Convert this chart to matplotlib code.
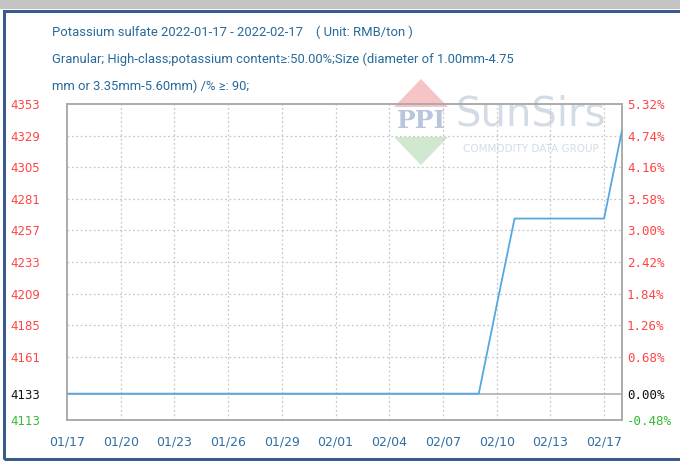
import matplotlib
matplotlib.use("Agg")
import matplotlib.pyplot as plt
from matplotlib.patches import Polygon, Rectangle
import numpy as np

# data (index based, one point per day on the chart)
prices = [4133, 4133, 4133, 4133, 4133, 4133, 4133, 4133, 4133, 4133,
          4133, 4133, 4133, 4133, 4133, 4133, 4133, 4133, 4133, 4133,
          4133, 4133, 4133, 4133, 4200, 4266, 4266, 4266, 4266, 4266,
          4266, 4333]
xtick_pos = [0, 3, 6, 9, 12, 15, 18, 21, 24, 27, 30]
xtick_labels = ['01/17', '01/20', '01/23', '01/26', '01/29', '02/01',
                '02/04', '02/07', '02/10', '02/13', '02/17']
base_price = 4133
yticks = [4353, 4329, 4305, 4281, 4257, 4233, 4209, 4185, 4161, 4133, 4113]

title1 = "Potassium sulfate 2022-01-17 - 2022-02-17    ( Unit: RMB/ton )"
title2 = "Granular; High-class;potassium content\u2265:50.00%;Size (diameter of 1.00mm-4.75"
title3 = "mm or 3.35mm-5.60mm) /% \u2265: 90;"

W, H = 680, 461
fig = plt.figure(figsize=(W / 100, H / 100), dpi=100)


def fx(px):
    return px / W


def fy(py):
    return 1 - py / H


# frame decoration
fig.patches.append(Rectangle((0, fy(9)), 1, 9 / H, transform=fig.transFigure,
                             facecolor='#c3c3c3', edgecolor='none', zorder=-5))
fig.patches.append(Rectangle((fx(4), fy(459)), 1, fy(11) - fy(459), transform=fig.transFigure,
                             facecolor='none', edgecolor='#3b5b8c', lw=2.2, zorder=-4))

title_font = ['Roboto', 'DejaVu Sans']
tcol = '#27699a'
t_lines = []
for txt, py in [(title1, 32), (title2, 59), (title3, 86)]:
    t_lines.append(fig.text(fx(52), fy(py), txt, fontsize=11, color=tcol, va='center',
                            family=title_font))
# shrink titles so the second line spans about 461 px like the original
r = fig.canvas.get_renderer()
w2 = t_lines[1].get_window_extent(r).width
for t in t_lines:
    t.set_fontsize(11 * 461 / w2)

ax = fig.add_axes([fx(67), fy(420), fx(622) - fx(67), fy(104) - fy(420)])
ax.set_facecolor('none')

# watermark
fig.patches.append(Polygon([(fx(421), fy(79)), (fx(394), fy(107)), (fx(448), fy(107))],
                           closed=True, transform=fig.transFigure,
                           facecolor='#f6c4c4', edgecolor='none', zorder=-3))
fig.patches.append(Polygon([(fx(394), fy(137)), (fx(448), fy(137)), (fx(421), fy(165))],
                           closed=True, transform=fig.transFigure,
                           facecolor='#cfe8cf', edgecolor='none', zorder=-3))
fig.text(fx(421), fy(121), "PPI", fontsize=18, color='#b9c5dd', ha='center', va='center',
         family='DejaVu Serif', weight='bold', zorder=-2)
fig.text(fx(531), fy(115), "SunSirs", fontsize=29, color='#d3dce5', ha='center', va='center',
         family='DejaVu Sans', zorder=-2)
fig.text(fx(531), fy(149), "COMMODITY DATA GROUP", fontsize=7.5, color='#d3dce5',
         ha='center', va='center', family='DejaVu Sans', zorder=-2)

x = np.arange(len(prices))
ax.plot(x, prices, color='#55a8e0', lw=1.3, zorder=3)

ax.set_xlim(0, len(prices) - 1)
ax.set_ylim(yticks[-1], yticks[0])

# grid
for t in yticks[1:-2]:
    ax.axhline(t, color='#c8c8c8', lw=0.9, ls=(0, (1.5, 2)), zorder=1)
ax.axhline(base_price, color='#a8a8a8', lw=1.1, zorder=2)
for p in xtick_pos[1:]:
    ax.axvline(p, color='#c8c8c8', lw=0.9, ls=(0, (1.5, 2)), zorder=1)

for s in ax.spines.values():
    s.set_color('#ababab')
    s.set_linewidth(1.4)

ax.set_xticks(xtick_pos)
ax.set_xticklabels(xtick_labels, fontsize=9, color='#2f6fa3', family='DejaVu Sans')
ax.tick_params(axis='x', length=0, pad=11.5)


def label_color(t):
    if t > base_price:
        return '#ff4444'
    if t < base_price:
        return '#33bb33'
    return '#111111'


ax.set_yticks(yticks)
ax.set_yticklabels([str(t) for t in yticks], fontsize=8.5, family='DejaVu Sans')
ax.tick_params(axis='y', length=0, pad=41)
for lab, t in zip(ax.get_yticklabels(), yticks):
    lab.set_horizontalalignment('left')
    lab.set_color(label_color(t))

ax2 = ax.twinx()
ax2.set_ylim(ax.get_ylim())
ax2.set_yticks(yticks)
ax2.set_yticklabels(['%.2f%%' % ((t - base_price) / base_price * 100) for t in yticks],
                    fontsize=9, family='DejaVu Sans Mono')
ax2.tick_params(axis='y', length=0, pad=3.6)
for lab, t in zip(ax2.get_yticklabels(), yticks):
    lab.set_color(label_color(t))
for s in ax2.spines.values():
    s.set_visible(False)

fig.savefig("out.png", dpi=100)
